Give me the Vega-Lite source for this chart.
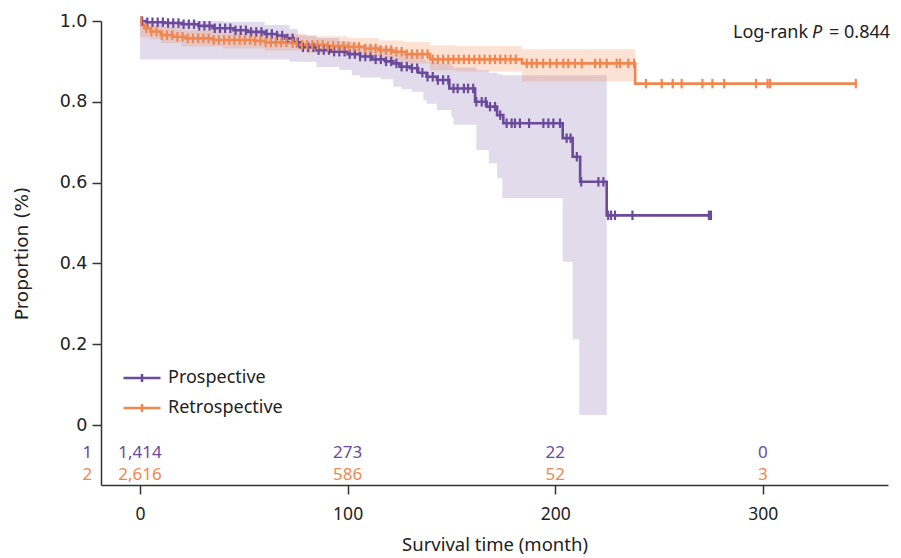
{
  "$schema": "https://vega.github.io/schema/vega-lite/v6.json",
  "width": 787,
  "height": 464,
  "autosize": {"type": "none"},
  "padding": {"left": 101, "top": 21, "right": 13, "bottom": 73},
  "background": "white",
  "config": {
    "view": {"stroke": null},
    "axis": {"grid": false, "domainColor": "#333333", "domainWidth": 1.5, "tickColor": "#333333", "tickWidth": 1.5, "tickSize": 9, "labelColor": "#222222", "titleColor": "#222222", "titleFontWeight": "normal"},
    "axisX": {"labelFont": "Noto Sans", "labelFontSize": 17.5, "labelPadding": 11, "titleFont": "Noto Sans", "titleFontSize": 18.5, "titlePadding": 13},
    "axisY": {"labelFont": "DejaVu Sans", "labelFontSize": 17.5, "labelPadding": 5, "titleFont": "DejaVu Sans", "titleFontSize": 18.5, "titlePadding": 28}
  },
  "datasets": {
    "curve": [
      {"group": "Prospective", "t": 0, "s": 1.0}, {"group": "Prospective", "t": 3, "s": 0.997}, {"group": "Prospective", "t": 12, "s": 0.995}, {"group": "Prospective", "t": 20, "s": 0.992}, {"group": "Prospective", "t": 28, "s": 0.988}, {"group": "Prospective", "t": 35, "s": 0.982}, {"group": "Prospective", "t": 45, "s": 0.977}, {"group": "Prospective", "t": 52, "s": 0.973}, {"group": "Prospective", "t": 60, "s": 0.968}, {"group": "Prospective", "t": 66, "s": 0.964}, {"group": "Prospective", "t": 70, "s": 0.957}, {"group": "Prospective", "t": 74, "s": 0.947}, {"group": "Prospective", "t": 77, "s": 0.935}, {"group": "Prospective", "t": 85, "s": 0.928}, {"group": "Prospective", "t": 92, "s": 0.924}, {"group": "Prospective", "t": 100, "s": 0.918}, {"group": "Prospective", "t": 106, "s": 0.912}, {"group": "Prospective", "t": 112, "s": 0.905}, {"group": "Prospective", "t": 118, "s": 0.9}, {"group": "Prospective", "t": 122, "s": 0.895}, {"group": "Prospective", "t": 125, "s": 0.887}, {"group": "Prospective", "t": 130, "s": 0.883}, {"group": "Prospective", "t": 134, "s": 0.872}, {"group": "Prospective", "t": 138, "s": 0.862}, {"group": "Prospective", "t": 143, "s": 0.854}, {"group": "Prospective", "t": 149, "s": 0.833}, {"group": "Prospective", "t": 161.4, "s": 0.8}, {"group": "Prospective", "t": 167, "s": 0.788}, {"group": "Prospective", "t": 172, "s": 0.767}, {"group": "Prospective", "t": 175, "s": 0.747}, {"group": "Prospective", "t": 203.6, "s": 0.71}, {"group": "Prospective", "t": 208.4, "s": 0.664}, {"group": "Prospective", "t": 212, "s": 0.602}, {"group": "Prospective", "t": 224.8, "s": 0.519}, {"group": "Prospective", "t": 275, "s": 0.519},
      {"group": "Retrospective", "t": 0, "s": 1.0}, {"group": "Retrospective", "t": 1, "s": 0.99}, {"group": "Retrospective", "t": 2, "s": 0.982}, {"group": "Retrospective", "t": 5, "s": 0.974}, {"group": "Retrospective", "t": 10, "s": 0.965}, {"group": "Retrospective", "t": 16, "s": 0.961}, {"group": "Retrospective", "t": 22, "s": 0.957}, {"group": "Retrospective", "t": 35, "s": 0.953}, {"group": "Retrospective", "t": 55, "s": 0.951}, {"group": "Retrospective", "t": 60, "s": 0.947}, {"group": "Retrospective", "t": 73, "s": 0.945}, {"group": "Retrospective", "t": 76, "s": 0.941}, {"group": "Retrospective", "t": 90, "s": 0.938}, {"group": "Retrospective", "t": 100, "s": 0.936}, {"group": "Retrospective", "t": 108, "s": 0.932}, {"group": "Retrospective", "t": 115, "s": 0.928}, {"group": "Retrospective", "t": 122, "s": 0.924}, {"group": "Retrospective", "t": 128, "s": 0.918}, {"group": "Retrospective", "t": 139.7, "s": 0.905}, {"group": "Retrospective", "t": 184, "s": 0.895}, {"group": "Retrospective", "t": 238.5, "s": 0.845}, {"group": "Retrospective", "t": 345, "s": 0.845}
    ],
    "band": [
      {"group": "Prospective", "t": 0, "lo": 0.905, "hi": 1.0}, {"group": "Prospective", "t": 40, "lo": 0.905, "hi": 0.998}, {"group": "Prospective", "t": 60, "lo": 0.905, "hi": 0.99}, {"group": "Prospective", "t": 72, "lo": 0.899, "hi": 0.98}, {"group": "Prospective", "t": 76, "lo": 0.899, "hi": 0.965}, {"group": "Prospective", "t": 85, "lo": 0.886, "hi": 0.958}, {"group": "Prospective", "t": 96, "lo": 0.879, "hi": 0.95}, {"group": "Prospective", "t": 102, "lo": 0.866, "hi": 0.945}, {"group": "Prospective", "t": 106, "lo": 0.86, "hi": 0.94}, {"group": "Prospective", "t": 116, "lo": 0.856, "hi": 0.935}, {"group": "Prospective", "t": 122, "lo": 0.837, "hi": 0.928}, {"group": "Prospective", "t": 126, "lo": 0.831, "hi": 0.922}, {"group": "Prospective", "t": 131, "lo": 0.825, "hi": 0.915}, {"group": "Prospective", "t": 136.5, "lo": 0.804, "hi": 0.905}, {"group": "Prospective", "t": 138, "lo": 0.795, "hi": 0.9}, {"group": "Prospective", "t": 143, "lo": 0.78, "hi": 0.895}, {"group": "Prospective", "t": 150, "lo": 0.762, "hi": 0.89}, {"group": "Prospective", "t": 151, "lo": 0.743, "hi": 0.885}, {"group": "Prospective", "t": 162, "lo": 0.681, "hi": 0.878}, {"group": "Prospective", "t": 168, "lo": 0.648, "hi": 0.872}, {"group": "Prospective", "t": 172, "lo": 0.611, "hi": 0.868}, {"group": "Prospective", "t": 174.5, "lo": 0.561, "hi": 0.866}, {"group": "Prospective", "t": 203.6, "lo": 0.404, "hi": 0.866}, {"group": "Prospective", "t": 208.4, "lo": 0.212, "hi": 0.866}, {"group": "Prospective", "t": 211.6, "lo": 0.025, "hi": 0.866}, {"group": "Prospective", "t": 224.8, "lo": 0.025, "hi": 0.866},
      {"group": "Retrospective", "t": 0, "lo": 0.96, "hi": 1.0}, {"group": "Retrospective", "t": 5, "lo": 0.955, "hi": 0.99}, {"group": "Retrospective", "t": 10, "lo": 0.945, "hi": 0.985}, {"group": "Retrospective", "t": 20, "lo": 0.937, "hi": 0.977}, {"group": "Retrospective", "t": 40, "lo": 0.932, "hi": 0.972}, {"group": "Retrospective", "t": 60, "lo": 0.927, "hi": 0.968}, {"group": "Retrospective", "t": 80, "lo": 0.92, "hi": 0.962}, {"group": "Retrospective", "t": 100, "lo": 0.912, "hi": 0.958}, {"group": "Retrospective", "t": 115, "lo": 0.9, "hi": 0.952}, {"group": "Retrospective", "t": 127, "lo": 0.895, "hi": 0.948}, {"group": "Retrospective", "t": 139.7, "lo": 0.878, "hi": 0.94}, {"group": "Retrospective", "t": 152, "lo": 0.875, "hi": 0.938}, {"group": "Retrospective", "t": 184, "lo": 0.85, "hi": 0.93}, {"group": "Retrospective", "t": 238.5, "lo": 0.85, "hi": 0.93}
    ],
    "censor": [
      {"group": "Prospective", "t": 1, "s": 1.0}, {"group": "Prospective", "t": 3.5, "s": 0.997}, {"group": "Prospective", "t": 6, "s": 0.997}, {"group": "Prospective", "t": 8.5, "s": 0.997}, {"group": "Prospective", "t": 11, "s": 0.997}, {"group": "Prospective", "t": 13.5, "s": 0.995}, {"group": "Prospective", "t": 16, "s": 0.995}, {"group": "Prospective", "t": 18.5, "s": 0.995}, {"group": "Prospective", "t": 21, "s": 0.992}, {"group": "Prospective", "t": 23.5, "s": 0.992}, {"group": "Prospective", "t": 26, "s": 0.992}, {"group": "Prospective", "t": 28.5, "s": 0.988}, {"group": "Prospective", "t": 31, "s": 0.988}, {"group": "Prospective", "t": 33.5, "s": 0.988}, {"group": "Prospective", "t": 36, "s": 0.982}, {"group": "Prospective", "t": 38.5, "s": 0.982}, {"group": "Prospective", "t": 41, "s": 0.982}, {"group": "Prospective", "t": 43.5, "s": 0.982}, {"group": "Prospective", "t": 46, "s": 0.977}, {"group": "Prospective", "t": 48.5, "s": 0.977}, {"group": "Prospective", "t": 51, "s": 0.977}, {"group": "Prospective", "t": 53.5, "s": 0.973}, {"group": "Prospective", "t": 56, "s": 0.973}, {"group": "Prospective", "t": 58.5, "s": 0.973}, {"group": "Prospective", "t": 61, "s": 0.968}, {"group": "Prospective", "t": 63.5, "s": 0.968}, {"group": "Prospective", "t": 66, "s": 0.964}, {"group": "Prospective", "t": 68.5, "s": 0.964}, {"group": "Prospective", "t": 71, "s": 0.957}, {"group": "Prospective", "t": 73.5, "s": 0.957}, {"group": "Prospective", "t": 76, "s": 0.947}, {"group": "Prospective", "t": 78.5, "s": 0.935}, {"group": "Prospective", "t": 81, "s": 0.935}, {"group": "Prospective", "t": 83.5, "s": 0.935}, {"group": "Prospective", "t": 86, "s": 0.928}, {"group": "Prospective", "t": 88.5, "s": 0.928}, {"group": "Prospective", "t": 91, "s": 0.928}, {"group": "Prospective", "t": 93.5, "s": 0.924}, {"group": "Prospective", "t": 96, "s": 0.924}, {"group": "Prospective", "t": 98.5, "s": 0.924}, {"group": "Prospective", "t": 101, "s": 0.918}, {"group": "Prospective", "t": 103.5, "s": 0.918}, {"group": "Prospective", "t": 106, "s": 0.912}, {"group": "Prospective", "t": 108.5, "s": 0.912}, {"group": "Prospective", "t": 111, "s": 0.912}, {"group": "Prospective", "t": 113.5, "s": 0.905}, {"group": "Prospective", "t": 116, "s": 0.905}, {"group": "Prospective", "t": 118.5, "s": 0.9}, {"group": "Prospective", "t": 121, "s": 0.9}, {"group": "Prospective", "t": 123.5, "s": 0.895}, {"group": "Prospective", "t": 126, "s": 0.887}, {"group": "Prospective", "t": 128.5, "s": 0.887}, {"group": "Prospective", "t": 131, "s": 0.883}, {"group": "Prospective", "t": 133.5, "s": 0.883}, {"group": "Prospective", "t": 136, "s": 0.872}, {"group": "Prospective", "t": 138.5, "s": 0.862}, {"group": "Prospective", "t": 141, "s": 0.862}, {"group": "Prospective", "t": 143.5, "s": 0.854}, {"group": "Prospective", "t": 146, "s": 0.854}, {"group": "Prospective", "t": 148.5, "s": 0.854}, {"group": "Prospective", "t": 151, "s": 0.833}, {"group": "Prospective", "t": 153, "s": 0.833}, {"group": "Prospective", "t": 156, "s": 0.833}, {"group": "Prospective", "t": 158, "s": 0.833}, {"group": "Prospective", "t": 160.5, "s": 0.833}, {"group": "Prospective", "t": 162, "s": 0.8}, {"group": "Prospective", "t": 164.6, "s": 0.8}, {"group": "Prospective", "t": 166.5, "s": 0.8}, {"group": "Prospective", "t": 168.6, "s": 0.788}, {"group": "Prospective", "t": 171, "s": 0.788}, {"group": "Prospective", "t": 173.5, "s": 0.767}, {"group": "Prospective", "t": 176.6, "s": 0.747}, {"group": "Prospective", "t": 179, "s": 0.747}, {"group": "Prospective", "t": 180.6, "s": 0.747}, {"group": "Prospective", "t": 183, "s": 0.747}, {"group": "Prospective", "t": 187.4, "s": 0.747}, {"group": "Prospective", "t": 194.3, "s": 0.747}, {"group": "Prospective", "t": 196.7, "s": 0.747}, {"group": "Prospective", "t": 199.1, "s": 0.747}, {"group": "Prospective", "t": 202.3, "s": 0.747}, {"group": "Prospective", "t": 205.5, "s": 0.71}, {"group": "Prospective", "t": 207.4, "s": 0.71}, {"group": "Prospective", "t": 210.4, "s": 0.664}, {"group": "Prospective", "t": 212.5, "s": 0.602}, {"group": "Prospective", "t": 220.8, "s": 0.602}, {"group": "Prospective", "t": 223.2, "s": 0.602}, {"group": "Prospective", "t": 225.5, "s": 0.519}, {"group": "Prospective", "t": 226.9, "s": 0.519}, {"group": "Prospective", "t": 228.8, "s": 0.519}, {"group": "Prospective", "t": 237.2, "s": 0.519}, {"group": "Prospective", "t": 274, "s": 0.519}, {"group": "Prospective", "t": 275, "s": 0.519},
      {"group": "Retrospective", "t": 0.5, "s": 1.0}, {"group": "Retrospective", "t": 3, "s": 0.982}, {"group": "Retrospective", "t": 5.5, "s": 0.974}, {"group": "Retrospective", "t": 8, "s": 0.974}, {"group": "Retrospective", "t": 10.5, "s": 0.965}, {"group": "Retrospective", "t": 13, "s": 0.965}, {"group": "Retrospective", "t": 15.5, "s": 0.965}, {"group": "Retrospective", "t": 18, "s": 0.961}, {"group": "Retrospective", "t": 20.5, "s": 0.961}, {"group": "Retrospective", "t": 23, "s": 0.957}, {"group": "Retrospective", "t": 25.5, "s": 0.957}, {"group": "Retrospective", "t": 28, "s": 0.957}, {"group": "Retrospective", "t": 30.5, "s": 0.957}, {"group": "Retrospective", "t": 33, "s": 0.957}, {"group": "Retrospective", "t": 35.5, "s": 0.953}, {"group": "Retrospective", "t": 38, "s": 0.953}, {"group": "Retrospective", "t": 40.5, "s": 0.953}, {"group": "Retrospective", "t": 43, "s": 0.953}, {"group": "Retrospective", "t": 45.5, "s": 0.953}, {"group": "Retrospective", "t": 48, "s": 0.953}, {"group": "Retrospective", "t": 50.5, "s": 0.953}, {"group": "Retrospective", "t": 53, "s": 0.953}, {"group": "Retrospective", "t": 55.5, "s": 0.951}, {"group": "Retrospective", "t": 58, "s": 0.951}, {"group": "Retrospective", "t": 60.5, "s": 0.947}, {"group": "Retrospective", "t": 63, "s": 0.947}, {"group": "Retrospective", "t": 65.5, "s": 0.947}, {"group": "Retrospective", "t": 68, "s": 0.947}, {"group": "Retrospective", "t": 70.5, "s": 0.947}, {"group": "Retrospective", "t": 73.5, "s": 0.945}, {"group": "Retrospective", "t": 75.5, "s": 0.945}, {"group": "Retrospective", "t": 78, "s": 0.941}, {"group": "Retrospective", "t": 80.5, "s": 0.941}, {"group": "Retrospective", "t": 83, "s": 0.941}, {"group": "Retrospective", "t": 85.5, "s": 0.941}, {"group": "Retrospective", "t": 88, "s": 0.941}, {"group": "Retrospective", "t": 90.5, "s": 0.938}, {"group": "Retrospective", "t": 93, "s": 0.938}, {"group": "Retrospective", "t": 95.5, "s": 0.938}, {"group": "Retrospective", "t": 98, "s": 0.938}, {"group": "Retrospective", "t": 100.5, "s": 0.936}, {"group": "Retrospective", "t": 103, "s": 0.936}, {"group": "Retrospective", "t": 105.5, "s": 0.936}, {"group": "Retrospective", "t": 108.5, "s": 0.932}, {"group": "Retrospective", "t": 111, "s": 0.932}, {"group": "Retrospective", "t": 113.5, "s": 0.932}, {"group": "Retrospective", "t": 116, "s": 0.928}, {"group": "Retrospective", "t": 118.5, "s": 0.928}, {"group": "Retrospective", "t": 121, "s": 0.928}, {"group": "Retrospective", "t": 123.5, "s": 0.924}, {"group": "Retrospective", "t": 126, "s": 0.924}, {"group": "Retrospective", "t": 128.5, "s": 0.918}, {"group": "Retrospective", "t": 131, "s": 0.918}, {"group": "Retrospective", "t": 133.5, "s": 0.918}, {"group": "Retrospective", "t": 136, "s": 0.918}, {"group": "Retrospective", "t": 138.5, "s": 0.918}, {"group": "Retrospective", "t": 141, "s": 0.905}, {"group": "Retrospective", "t": 143.5, "s": 0.905}, {"group": "Retrospective", "t": 146, "s": 0.905}, {"group": "Retrospective", "t": 148.5, "s": 0.905}, {"group": "Retrospective", "t": 151, "s": 0.905}, {"group": "Retrospective", "t": 153.5, "s": 0.905}, {"group": "Retrospective", "t": 156, "s": 0.905}, {"group": "Retrospective", "t": 158.5, "s": 0.905}, {"group": "Retrospective", "t": 161, "s": 0.905}, {"group": "Retrospective", "t": 163.5, "s": 0.905}, {"group": "Retrospective", "t": 166, "s": 0.905}, {"group": "Retrospective", "t": 168.5, "s": 0.905}, {"group": "Retrospective", "t": 171, "s": 0.905}, {"group": "Retrospective", "t": 173.5, "s": 0.905}, {"group": "Retrospective", "t": 176, "s": 0.905}, {"group": "Retrospective", "t": 178.5, "s": 0.905}, {"group": "Retrospective", "t": 181, "s": 0.905}, {"group": "Retrospective", "t": 186.3, "s": 0.895}, {"group": "Retrospective", "t": 188.7, "s": 0.895}, {"group": "Retrospective", "t": 191.1, "s": 0.895}, {"group": "Retrospective", "t": 194.2, "s": 0.895}, {"group": "Retrospective", "t": 197.5, "s": 0.895}, {"group": "Retrospective", "t": 200.7, "s": 0.895}, {"group": "Retrospective", "t": 203.9, "s": 0.895}, {"group": "Retrospective", "t": 206.3, "s": 0.895}, {"group": "Retrospective", "t": 209.5, "s": 0.895}, {"group": "Retrospective", "t": 212.8, "s": 0.895}, {"group": "Retrospective", "t": 219.2, "s": 0.895}, {"group": "Retrospective", "t": 221.6, "s": 0.895}, {"group": "Retrospective", "t": 224.8, "s": 0.895}, {"group": "Retrospective", "t": 229.6, "s": 0.895}, {"group": "Retrospective", "t": 231.2, "s": 0.895}, {"group": "Retrospective", "t": 235.2, "s": 0.895}, {"group": "Retrospective", "t": 238, "s": 0.895}, {"group": "Retrospective", "t": 243.7, "s": 0.845}, {"group": "Retrospective", "t": 251.3, "s": 0.845}, {"group": "Retrospective", "t": 256.6, "s": 0.845}, {"group": "Retrospective", "t": 260.9, "s": 0.845}, {"group": "Retrospective", "t": 270.9, "s": 0.845}, {"group": "Retrospective", "t": 275.7, "s": 0.845}, {"group": "Retrospective", "t": 281.4, "s": 0.845}, {"group": "Retrospective", "t": 296.7, "s": 0.845}, {"group": "Retrospective", "t": 302.3, "s": 0.845}, {"group": "Retrospective", "t": 303.5, "s": 0.845}, {"group": "Retrospective", "t": 344.8, "s": 0.845}
    ],
    "risk": [
      {"group": "Prospective", "t": 0, "n": "1,414"}, {"group": "Prospective", "t": 100, "n": "273"}, {"group": "Prospective", "t": 200, "n": "22"}, {"group": "Prospective", "t": 300, "n": "0"},
      {"group": "Retrospective", "t": 0, "n": "2,616"}, {"group": "Retrospective", "t": 100, "n": "586"}, {"group": "Retrospective", "t": 200, "n": "52"}, {"group": "Retrospective", "t": 300, "n": "3"}
    ],
    "notes": [{"row1": "1", "row2": "2", "a": "Log-rank", "p": "P", "v": "= 0.844"}]
  },
  "layer": [
    {
      "data": {"name": "band"},
      "transform": [{"filter": "datum.group == 'Prospective'"}],
      "mark": {"type": "area", "interpolate": "step-after", "color": "#6B4A9B", "fillOpacity": 0.2},
      "encoding": {
        "x": {"field": "t", "type": "quantitative", "title": "Survival time (month)", "scale": {"domain": [-18.8, 360.3], "nice": false, "zero": false}, "axis": {"values": [0, 100, 200, 300]}},
        "y": {"field": "lo", "type": "quantitative", "title": "Proportion (%)", "scale": {"domain": [-0.1485, 1], "nice": false, "zero": false}, "axis": {"values": [0, 0.2, 0.4, 0.6, 0.8, 1.0], "labelExpr": "datum.value == 0 ? '0' : format(datum.value, '.1f')"}},
        "y2": {"field": "hi"}
      }
    },
    {
      "data": {"name": "band"},
      "transform": [{"filter": "datum.group == 'Retrospective'"}],
      "mark": {"type": "area", "interpolate": "step-after", "color": "#F0874F", "fillOpacity": 0.24},
      "encoding": {
        "x": {"field": "t", "type": "quantitative", "title": "Survival time (month)"},
        "y": {"field": "lo", "type": "quantitative", "title": "Proportion (%)"},
        "y2": {"field": "hi"}
      }
    },
    {
      "data": {"name": "curve"},
      "mark": {"type": "line", "interpolate": "step-after", "strokeWidth": 2.6},
      "encoding": {
        "x": {"field": "t", "type": "quantitative", "title": "Survival time (month)"},
        "y": {"field": "s", "type": "quantitative", "title": "Proportion (%)"},
        "color": {"field": "group", "type": "nominal", "scale": {"domain": ["Prospective", "Retrospective"], "range": ["#6B4A9B", "#F0874F"]},
          "legend": {"title": null, "orient": "none", "legendX": 21, "legendY": 337, "padding": 0, "symbolType": "M-1,0H1M0,-0.22V0.22", "symbolSize": 1369, "symbolStrokeWidth": 2.5, "rowPadding": -10, "labelOffset": 6, "labelFont": "Noto Sans", "labelFontSize": 18, "labelColor": "#222222"}}
      }
    },
    {
      "data": {"name": "censor"},
      "mark": {"type": "point", "shape": "M0,-1V1", "filled": false, "size": 90, "strokeWidth": 2.2, "opacity": 1},
      "encoding": {
        "x": {"field": "t", "type": "quantitative", "title": "Survival time (month)"},
        "y": {"field": "s", "type": "quantitative", "title": "Proportion (%)"},
        "color": {"field": "group", "type": "nominal"}
      }
    },
    {
      "data": {"name": "risk"},
      "transform": [{"filter": "datum.group == 'Prospective'"}],
      "mark": {"type": "text", "font": "Noto Sans", "fontSize": 17, "align": "center", "baseline": "alphabetic", "color": "#6B4A9B"},
      "encoding": {
        "x": {"field": "t", "type": "quantitative", "title": "Survival time (month)"},
        "y": {"datum": -0.0824, "type": "quantitative"},
        "text": {"field": "n"}
      }
    },
    {
      "data": {"name": "risk"},
      "transform": [{"filter": "datum.group == 'Retrospective'"}],
      "mark": {"type": "text", "font": "Noto Sans", "fontSize": 17, "align": "center", "baseline": "alphabetic", "color": "#F0874F"},
      "encoding": {
        "x": {"field": "t", "type": "quantitative", "title": "Survival time (month)"},
        "y": {"datum": -0.1361, "type": "quantitative"},
        "text": {"field": "n"}
      }
    },
    {
      "data": {"name": "notes"},
      "mark": {"type": "text", "font": "Noto Sans", "fontSize": 17, "align": "center", "baseline": "alphabetic", "color": "#6B4A9B"},
      "encoding": {
        "x": {"datum": -25.4, "type": "quantitative"},
        "y": {"datum": -0.0824, "type": "quantitative"},
        "text": {"field": "row1"}
      }
    },
    {
      "data": {"name": "notes"},
      "mark": {"type": "text", "font": "Noto Sans", "fontSize": 17, "align": "center", "baseline": "alphabetic", "color": "#F0874F"},
      "encoding": {
        "x": {"datum": -25.4, "type": "quantitative"},
        "y": {"datum": -0.1361, "type": "quantitative"},
        "text": {"field": "row2"}
      }
    },
    {
      "data": {"name": "notes"},
      "mark": {"type": "text", "font": "Noto Sans", "fontSize": 18, "align": "right", "baseline": "alphabetic", "color": "#222222"},
      "encoding": {
        "x": {"datum": 321.8, "type": "quantitative"},
        "y": {"datum": 0.957, "type": "quantitative"},
        "text": {"field": "a"}
      }
    },
    {
      "data": {"name": "notes"},
      "mark": {"type": "text", "font": "Noto Sans", "fontSize": 18, "fontStyle": "italic", "align": "left", "baseline": "alphabetic", "color": "#222222"},
      "encoding": {
        "x": {"datum": 323.7, "type": "quantitative"},
        "y": {"datum": 0.957, "type": "quantitative"},
        "text": {"field": "p"}
      }
    },
    {
      "data": {"name": "notes"},
      "mark": {"type": "text", "font": "Noto Sans", "fontSize": 18, "align": "left", "baseline": "alphabetic", "color": "#222222"},
      "encoding": {
        "x": {"datum": 331.9, "type": "quantitative"},
        "y": {"datum": 0.957, "type": "quantitative"},
        "text": {"field": "v"}
      }
    }
  ]
}
